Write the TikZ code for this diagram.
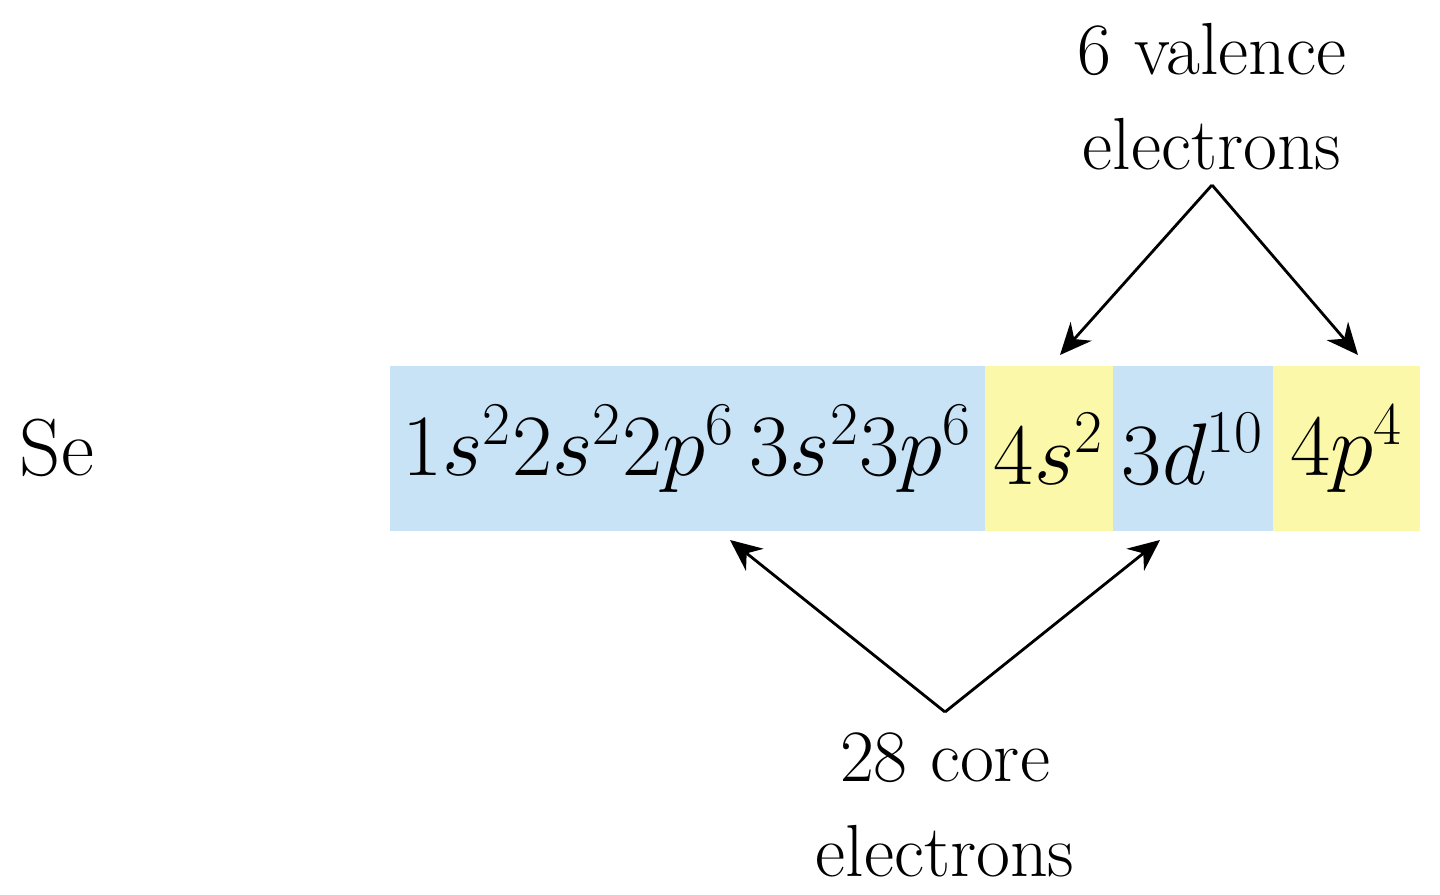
\documentclass[tikz,border=0pt]{standalone}
\usepackage{amsmath}
\usepackage{tikz}
\usetikzlibrary{positioning}
\usetikzlibrary{arrows.meta}
\definecolor{coreblue}{RGB}{200,226,246}
\definecolor{valyellow}{RGB}{252,248,170}
\tikzset{
  shell/.style={minimum height=1.65cm,inner sep=0pt,outer sep=0pt,
    font=\fontsize{23.5}{27}\selectfont},
  lbl/.style={align=center,font=\fontsize{21}{27}\selectfont},
  pointer/.style={thick,-{Stealth[length=9pt,width=8pt]}}
}
\begin{document}
\begin{tikzpicture}
    \useasboundingbox (0,0) rectangle (14.4,8.95);
    % configuration blocks
    \node[shell,fill=coreblue,minimum width=5.95cm,anchor=west] (inner) at (3.9,4.46)
      {$1s^2 2s^2 2p^6\,3s^2 3p^6$};
    \node[shell,fill=valyellow,minimum width=1.28cm,right=0pt of inner] (fours) {$4s^2$};
    \node[shell,fill=coreblue,minimum width=1.6cm,right=0pt of fours] (threed) {$3d^{10}$};
    \node[shell,fill=valyellow,minimum width=1.47cm,right=0pt of threed] (fourp) {$4p^4$};
    \node[lbl,font=\fontsize{23}{27}\selectfont] (se) at (0.57,4.47) {Se};

    % labels
    \node[lbl] (val) at (12.12,7.98) {6 valence\\electrons};
    \node[lbl] (core) at (9.45,0.9) {28 core\\electrons};

    \coordinate (vtop) at (12.12,7.1);
    \coordinate (cbot) at (9.45,1.83);
    \draw[pointer] (vtop) -- (10.6,5.4);
    \draw[pointer] (vtop) -- (13.58,5.4);
    \draw[pointer] (cbot) -- (7.3,3.55);
    \draw[pointer] (cbot) -- (11.6,3.55);
\end{tikzpicture}
\end{document}
